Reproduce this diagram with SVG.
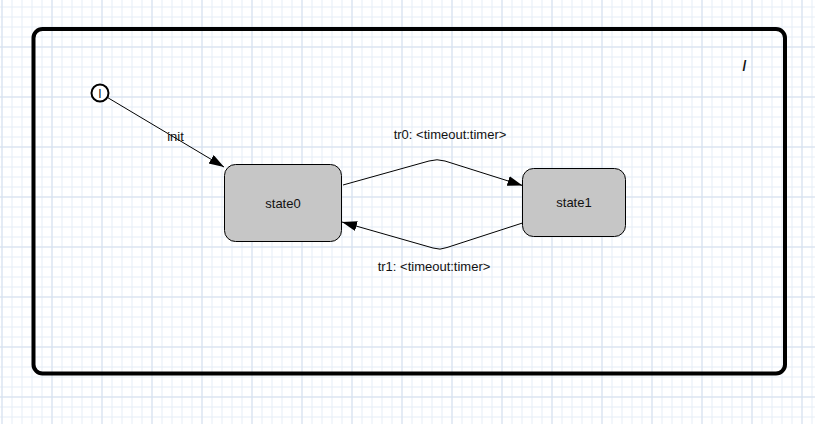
<svg xmlns="http://www.w3.org/2000/svg" width="815" height="424" viewBox="0 0 815 424">
<style>
.lbl{font-family:"Liberation Sans",Arial,sans-serif;font-size:13px;fill:#111;}
.st{fill:#c6c6c6;stroke:#000;stroke-width:1;}
.edge{fill:none;stroke:#000;stroke-width:1;marker-end:url(#arr);}
</style>
<defs>
<pattern id="minor" x="1.5" y="6.5" width="10" height="10" patternUnits="userSpaceOnUse">
<path d="M0.5,0 V10 M0,0.5 H10" stroke="#e5edf6" stroke-width="1" fill="none"/>
</pattern>
<pattern id="major" x="1.5" y="46.5" width="50" height="50" patternUnits="userSpaceOnUse">
<path d="M0.5,0 V50 M0,0.5 H50" stroke="#d5e0ee" stroke-width="1" fill="none"/>
</pattern>
<marker id="arr" markerUnits="userSpaceOnUse" markerWidth="16" markerHeight="12" refX="15" refY="5" orient="auto">
<path d="M0,0 L15,5 L0,10 z" fill="#000"/>
</marker>
</defs>
<rect width="815" height="424" fill="#fff"/>
<rect width="815" height="424" fill="url(#minor)"/>
<rect width="815" height="424" fill="url(#major)"/>
<g id="frame">
<rect x="33.5" y="29" width="751.5" height="344.5" rx="9" fill="none" stroke="#000" stroke-width="4"/>
<text class="lbl" x="744.5" y="70.5" text-anchor="middle" style="font-size:14px;font-weight:bold">/</text>
</g>
<g id="connectors">
<g id="e-init">
<path class="edge" d="M107.5,97.5 L224,167"/>
<text class="lbl" x="175.5" y="140.5" text-anchor="middle">init</text>
</g>
<g id="e-tr0">
<path class="edge" d="M343,185 L429,161 Q437,158.5 445,161 L522.5,185.5"/>
<text class="lbl" x="450" y="139" text-anchor="middle">tr0: &lt;timeout:timer&gt;</text>
</g>
<g id="e-tr1">
<path class="edge" d="M522.5,223 L447,247.5 Q440,250.5 433,248 L342,222"/>
<text class="lbl" x="434" y="271" text-anchor="middle">tr1: &lt;timeout:timer&gt;</text>
</g>
</g>
<g id="initial">
<circle cx="100" cy="93" r="8.5" fill="#fff" stroke="#000" stroke-width="2"/>
<text class="lbl" x="100" y="97.5" text-anchor="middle" style="font-size:12px">I</text>
</g>
<g id="state0">
<rect class="st" x="224.5" y="164.5" width="117" height="77" rx="11"/>
<text class="lbl" x="283" y="208" text-anchor="middle">state0</text>
</g>
<g id="state1">
<rect class="st" x="522.5" y="168.5" width="103" height="68" rx="11"/>
<text class="lbl" x="574" y="207" text-anchor="middle">state1</text>
</g>
</svg>
